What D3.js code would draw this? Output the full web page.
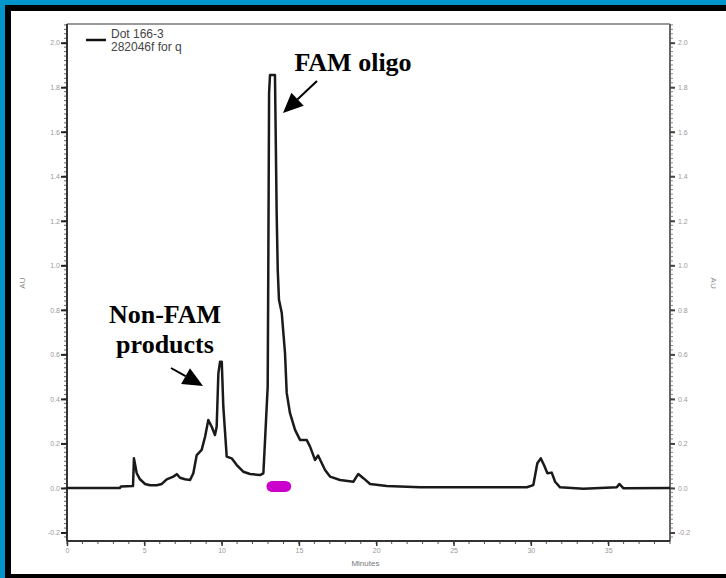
<!DOCTYPE html>
<html>
<head>
<meta charset="utf-8">
<script src="https://cdn.jsdelivr.net/npm/d3@7"></script>
<style>
  html, body { margin: 0; padding: 0; background: #0096cc; }
  svg { display: block; }
</style>
</head>
<body>
<div id="vis"></div>
<script>
// trace, minutes vs AU
var minutes = [0, 3.43, 3.49, 4.27, 4.33, 4.51, 4.72, 5.05, 5.37, 5.80, 6.13, 6.45, 6.88, 7.10, 7.31,
  7.63, 7.96, 8.17, 8.39, 8.71, 8.93, 9.14, 9.36, 9.57, 9.68, 9.79, 9.90, 10.01, 10.11, 10.33,
  10.65, 10.98, 11.40, 11.84, 12.48, 12.70, 12.81, 12.98, 13.02, 13.07, 13.13, 13.45, 13.50,
  13.56, 13.63, 13.71, 13.89, 14.10, 14.21, 14.42, 14.75, 15.07, 15.50, 15.72, 16.04, 16.24,
  16.69, 17.01, 17.66, 18.52, 18.84, 19.17, 19.60, 20.68, 22.83, 28.44, 29.74, 30.16, 30.42,
  30.64, 30.85, 31.07, 31.35, 31.57, 31.89, 33.40, 35.56, 35.72, 35.98, 39.0];
var au = [0.0, 0.0, 0.007, 0.009, 0.133, 0.066, 0.039, 0.018, 0.012, 0.012, 0.018, 0.039, 0.051, 0.062, 0.046,
  0.039, 0.036, 0.066, 0.148, 0.171, 0.230, 0.305, 0.275, 0.238, 0.275, 0.515, 0.567, 0.567, 0.365, 0.141,
  0.133, 0.103, 0.073, 0.063, 0.058, 0.066, 0.216, 0.455, 0.994, 1.773, 1.855, 1.855, 1.578,
  1.235, 0.979, 0.845, 0.786, 0.606, 0.427, 0.337, 0.261, 0.216, 0.216, 0.186, 0.126, 0.146,
  0.081, 0.051, 0.036, 0.028, 0.063, 0.044, 0.018, 0.009, 0.003, 0.003, 0.003, 0.013, 0.111,
  0.133, 0.103, 0.066, 0.069, 0.028, 0.003, -0.004, 0.003, 0.018, -0.001, 0.0];

var xTicks = [0, 5, 10, 15, 20, 25, 30, 35];
var yTicks = [-0.2, 0, 0.2, 0.4, 0.6, 0.8, 1.0, 1.2, 1.4, 1.6, 1.8, 2.0];
var yTickLabels = ['-0.2', '0.0', '0.2', '0.4', '0.6', '0.8', '1.0', '1.2', '1.4', '1.6', '1.8', '2.0'];
var legendLabels = ['Dot 166-3', '282046f for q'];

// magenta collection bar, minutes
var fractionStart = 12.9;
var fractionEnd = 14.5;

var width = 726;
var height = 578;

var svg = d3.select('#vis').append('svg')
  .attr('width', width)
  .attr('height', height);

// frame: blue page, black inner border, white panel
svg.append('rect').attr('x', 5).attr('y', 5).attr('width', width - 5).attr('height', height - 5)
  .attr('fill', '#000');
svg.append('rect').attr('x', 11).attr('y', 11).attr('width', width - 11).attr('height', 563)
  .attr('fill', '#fff');

var x = d3.scaleLinear().domain([0, 39]).range([67, 670]);
var y = d3.scaleLinear().domain([-0.2, 2.0]).range([532.5, 42.7]);
var plotTop = 24;
var plotBottom = 541;

var tickFont = '7px "Liberation Sans", Arial, sans-serif';

// top frame line
svg.append('line')
  .attr('x1', x(0)).attr('x2', x(39))
  .attr('y1', plotTop).attr('y2', plotTop)
  .attr('stroke', '#999').attr('stroke-width', 2);

// minor ticks
var yMinor = d3.range(-0.22, 2.08, 0.02);
svg.append('g').selectAll('line.lminor')
  .data(yMinor).enter().append('line')
  .attr('x1', x(0) - 3).attr('x2', x(0))
  .attr('y1', d => y(d)).attr('y2', d => y(d))
  .attr('stroke', '#666').attr('stroke-width', 1);
svg.append('g').selectAll('line.rminor')
  .data(yMinor).enter().append('line')
  .attr('x1', x(39)).attr('x2', x(39) + 3)
  .attr('y1', d => y(d)).attr('y2', d => y(d))
  .attr('stroke', '#888').attr('stroke-width', 1);
svg.append('g').selectAll('line.xminor')
  .data(d3.range(0, 39.01, 1)).enter().append('line')
  .attr('x1', d => x(d)).attr('x2', d => x(d))
  .attr('y1', plotBottom).attr('y2', plotBottom + 3)
  .attr('stroke', '#555').attr('stroke-width', 1);

// left axis
var leftAxis = svg.append('g')
  .attr('transform', 'translate(' + x(0) + ',0)')
  .call(d3.axisLeft(y).tickValues(yTicks).tickSize(6).tickSizeOuter(0)
    .tickFormat((d, i) => yTickLabels[i]));
leftAxis.select('.domain').attr('stroke', '#333').attr('stroke-width', 2)
  .attr('d', 'M0,' + plotTop + 'V' + plotBottom);
leftAxis.selectAll('.tick line').attr('stroke', '#222').attr('stroke-width', 2);
leftAxis.selectAll('.tick text').attr('fill', '#999').style('font', tickFont).attr('x', -7);

// right axis
var rightAxis = svg.append('g')
  .attr('transform', 'translate(' + x(39) + ',0)')
  .call(d3.axisRight(y).tickValues(yTicks).tickSize(5).tickSizeOuter(0)
    .tickFormat((d, i) => yTickLabels[i]));
rightAxis.select('.domain').attr('stroke', '#666').attr('stroke-width', 2)
  .attr('d', 'M0,' + plotTop + 'V' + plotBottom);
rightAxis.selectAll('.tick line').attr('stroke', '#444').attr('stroke-width', 2);
rightAxis.selectAll('.tick text').attr('fill', '#999').style('font', tickFont).attr('x', 8);

// bottom axis
var bottomAxis = svg.append('g')
  .attr('transform', 'translate(0,' + plotBottom + ')')
  .call(d3.axisBottom(x).tickValues(xTicks).tickSize(5).tickSizeOuter(0)
    .tickFormat(d3.format('d')));
bottomAxis.select('.domain').attr('stroke', '#333').attr('stroke-width', 2)
  .attr('d', 'M' + x(0) + ',0H' + x(39));
bottomAxis.selectAll('.tick line').attr('stroke', '#333').attr('stroke-width', 1.5);
bottomAxis.selectAll('.tick text').attr('fill', '#999').style('font', tickFont).attr('y', 7);

// axis titles
svg.append('text')
  .attr('transform', 'translate(25,' + y(0.92) + ') rotate(-90)')
  .attr('text-anchor', 'middle')
  .style('font', '8px "Liberation Sans", Arial, sans-serif')
  .attr('fill', '#888')
  .text('AU');
svg.append('text')
  .attr('transform', 'translate(711,' + y(0.92) + ') rotate(90)')
  .attr('text-anchor', 'middle')
  .style('font', '8px "Liberation Sans", Arial, sans-serif')
  .attr('fill', '#888')
  .text('AU');
svg.append('text')
  .attr('x', x(19.3)).attr('y', 566)
  .attr('text-anchor', 'middle')
  .style('font', '8px "Liberation Sans", Arial, sans-serif')
  .attr('fill', '#777')
  .text('Minutes');

// trace
var trace = minutes.map((m, i) => ({ t: m, v: au[i] }));
var line = d3.line()
  .x(d => x(d.t))
  .y(d => y(d.v));
svg.append('path')
  .datum(trace)
  .attr('d', line)
  .attr('fill', 'none')
  .attr('stroke', '#1a1a1a')
  .attr('stroke-width', 2.5)
  .attr('stroke-linejoin', 'round');

// legend
svg.append('line')
  .attr('x1', 86).attr('x2', 106).attr('y1', 40).attr('y2', 40)
  .attr('stroke', '#111').attr('stroke-width', 2.5);
svg.selectAll('text.legend')
  .data(legendLabels).enter().append('text')
  .attr('x', 111).attr('y', (d, i) => 38 + i * 13)
  .style('font', '12px "Liberation Sans", Arial, sans-serif')
  .attr('fill', '#444')
  .text(d => d);

// fraction bar
svg.append('rect')
  .attr('x', x(fractionStart)).attr('y', y(0) - 7)
  .attr('width', x(fractionEnd) - x(fractionStart)).attr('height', 11)
  .attr('rx', 5.5)
  .attr('fill', '#cc00cc');

// annotations
function arrow(x1, y1, x2, y2) {
  var ang = Math.atan2(y2 - y1, x2 - x1);
  var len = 20, half = 9;
  var bx = x2 - len * Math.cos(ang), by = y2 - len * Math.sin(ang);
  var px = -Math.sin(ang) * half, py = Math.cos(ang) * half;
  svg.append('line')
    .attr('x1', x1).attr('y1', y1).attr('x2', bx).attr('y2', by)
    .attr('stroke', '#000').attr('stroke-width', 2);
  svg.append('polygon')
    .attr('points', [[x2, y2], [bx + px, by + py], [bx - px, by - py]].map(p => p.join(',')).join(' '))
    .attr('fill', '#000');
}

var labelFont = 'bold 26px "Liberation Serif", "Times New Roman", serif';
svg.append('text')
  .attr('x', 353).attr('y', 71)
  .attr('text-anchor', 'middle')
  .style('font', labelFont)
  .text('FAM oligo');
arrow(317, 81, 283, 113);

svg.selectAll('text.nonfam')
  .data(['Non-FAM', 'products']).enter().append('text')
  .attr('x', 165).attr('y', (d, i) => 323 + i * 30)
  .attr('text-anchor', 'middle')
  .style('font', labelFont)
  .text(d => d);
arrow(171, 368, 203, 386);
</script>
</body>
</html>
